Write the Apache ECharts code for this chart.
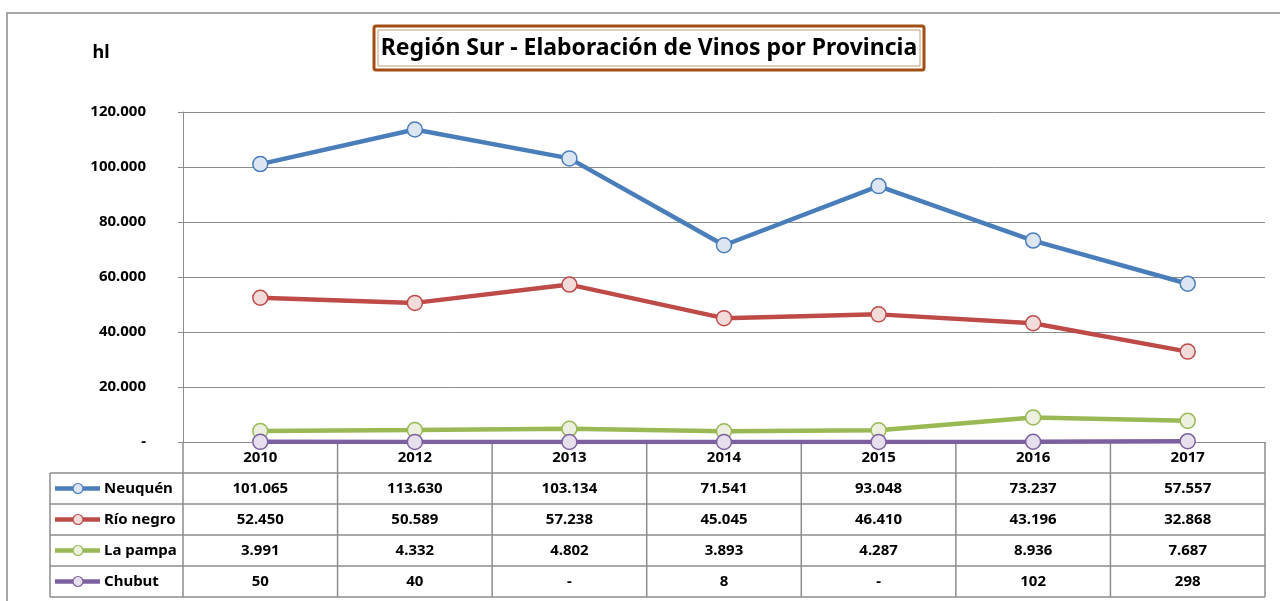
<!DOCTYPE html>
<html>
	<head>
		<meta charset="utf-8">
		<title>Región Sur</title>
		<script type="text/javascript" src="https://cdn.jsdelivr.net/npm/echarts@6/dist/echarts.min.js"></script>
		<style>
			html, body { margin: 0; padding: 0; background: #FFFFFF; }
			#chart { width: 1280px; height: 601px; }
		</style>
	</head>
	<body>
		<div id="chart"></div>
		<script type="text/javascript">
			// datos (hl)
			var years = ['2010', '2012', '2013', '2014', '2015', '2016', '2017'];
			var provincias = ['Neuquén', 'Río negro', 'La pampa', 'Chubut'];
			var neuquen = [101065, 113630, 103134, 71541, 93048, 73237, 57557];
			var rioNegro = [52450, 50589, 57238, 45045, 46410, 43196, 32868];
			var laPampa = [3991, 4332, 4802, 3893, 4287, 8936, 7687];
			var chubut = [50, 40, null, 8, null, 102, 298]; // null = '-'
			var yTicks = [0, 20000, 40000, 60000, 80000, 100000, 120000];

			var valores = [neuquen, rioNegro, laPampa, chubut];
			var colores = ['#4A7EBB', '#BE4B48', '#98B954', '#7D60A0'];
			var relleno = ['#DCE6F2', '#F2DCDB', '#EBF1DE', '#E6E0EC'];
			var gris = '#8C8C8C';
			var fuente = 'Noto Sans';

			// separador de miles con punto
			function fmt(v) {
				if (v === null || v === 0) return '-';
				return String(v).replace(/\B(?=(\d{3})+(?!\d))/g, '.');
			}

			var series = [];
			for (var i = 0; i < provincias.length; i++) {
				series.push({
					name: provincias[i],
					type: 'line',
					data: valores[i].map(function(v) { return v === null ? 0 : v; }),
					symbol: 'circle',
					symbolSize: 15,
					lineStyle: { color: colores[i], width: 4.5 },
					itemStyle: { color: relleno[i], borderColor: colores[i], borderWidth: 1.5 },
					emphasis: { disabled: true },
					z: 2 + i
				});
			}

			var option = {
				animation: false,
				grid: { left: 183, right: 15, top: 112, bottom: 159 },
				xAxis: {
					type: 'category',
					data: years,
					boundaryGap: true,
					axisLine: { show: true, lineStyle: { color: gris, width: 1 } },
					axisTick: { show: false },
					axisLabel: { margin: 8, fontFamily: fuente, fontWeight: 'bold', fontSize: 15, color: '#000' }
				},
				yAxis: {
					type: 'value',
					min: yTicks[0],
					max: yTicks[yTicks.length - 1],
					interval: yTicks[1] - yTicks[0],
					axisLine: { show: true, lineStyle: { color: gris, width: 1 } },
					axisTick: { show: true, length: 5, lineStyle: { color: gris } },
					splitLine: { show: true, lineStyle: { color: gris, width: 1 } },
					axisLabel: {
						margin: 37,
						fontFamily: fuente,
						fontWeight: 'bold',
						fontSize: 15,
						color: '#000',
						formatter: function(v) { return fmt(v); }
					}
				},
				series: series
			};

			var myChart = echarts.init(document.getElementById('chart'));
			myChart.setOption(option);

			// tabla de datos debajo del eje, alineada con las categorias
			var c0 = myChart.convertToPixel({ xAxisIndex: 0 }, 0);
			var c1 = myChart.convertToPixel({ xAxisIndex: 0 }, 1);
			var bw = c1 - c0;
			var ejeY = myChart.convertToPixel({ yAxisIndex: 0 }, 0);
			var izq = 50;
			var filaH = 31;
			var tablaTop = ejeY + filaH;
			var tablaBottom = tablaTop + filaH * provincias.length;
			var der = c0 - bw / 2 + bw * years.length;
			var g = [];

			// marco exterior
			g.push({ type: 'rect', shape: { x: 7, y: 13, width: 1300, height: 620 }, style: { fill: 'none', stroke: gris, lineWidth: 1.5 } });

			// titulo con doble borde
			g.push({ type: 'rect', shape: { x: 374, y: 26, width: 550, height: 44, r: 2 }, style: { fill: '#FFFFFF', stroke: '#A24E12', lineWidth: 3 } });
			g.push({ type: 'rect', shape: { x: 378, y: 30, width: 542, height: 36 }, style: { fill: 'none', stroke: '#C99A78', lineWidth: 1 } });
			g.push({ type: 'text', style: { x: 649, y: 48, text: 'Región Sur - Elaboración de Vinos por Provincia', fontFamily: fuente, fontWeight: 'bold', fontSize: 23, fill: '#000', align: 'center', verticalAlign: 'middle' } });
			g.push({ type: 'text', style: { x: 101, y: 53, text: 'hl', fontFamily: fuente, fontWeight: 'bold', fontSize: 18, fill: '#000', align: 'center', verticalAlign: 'middle' } });

			// lineas horizontales de la tabla
			for (var r = 0; r <= provincias.length; r++) {
				var yy = tablaTop + r * filaH;
				g.push({ type: 'line', shape: { x1: izq, y1: yy, x2: der, y2: yy }, style: { stroke: gris, lineWidth: 1.5 } });
			}
			// lineas verticales
			g.push({ type: 'line', shape: { x1: izq, y1: tablaTop, x2: izq, y2: tablaBottom }, style: { stroke: gris, lineWidth: 1.5 } });
			for (var k = 0; k <= years.length; k++) {
				var xx = c0 - bw / 2 + k * bw;
				g.push({ type: 'line', shape: { x1: xx, y1: ejeY, x2: xx, y2: tablaBottom }, style: { stroke: gris, lineWidth: 1.5 } });
			}

			// filas: leyenda + valores
			for (var s = 0; s < provincias.length; s++) {
				var ym = tablaTop + s * filaH + filaH / 2;
				g.push({ type: 'line', shape: { x1: 55, y1: ym, x2: 100, y2: ym }, style: { stroke: colores[s], lineWidth: 4.5 } });
				g.push({ type: 'circle', shape: { cx: 78, cy: ym, r: 5 }, style: { fill: relleno[s], stroke: colores[s], lineWidth: 1.2 } });
				g.push({ type: 'text', style: { x: 104, y: ym, text: provincias[s], fontFamily: fuente, fontWeight: 'bold', fontSize: 15, fill: '#000', align: 'left', verticalAlign: 'middle' } });
				for (var j = 0; j < years.length; j++) {
					var cx = myChart.convertToPixel({ xAxisIndex: 0 }, j);
					g.push({ type: 'text', style: { x: cx, y: ym, text: fmt(valores[s][j]), fontFamily: fuente, fontWeight: 'bold', fontSize: 15, fill: '#000', align: 'center', verticalAlign: 'middle' } });
				}
			}

			myChart.setOption({ graphic: { elements: g } });
		</script>
	</body>
</html>
